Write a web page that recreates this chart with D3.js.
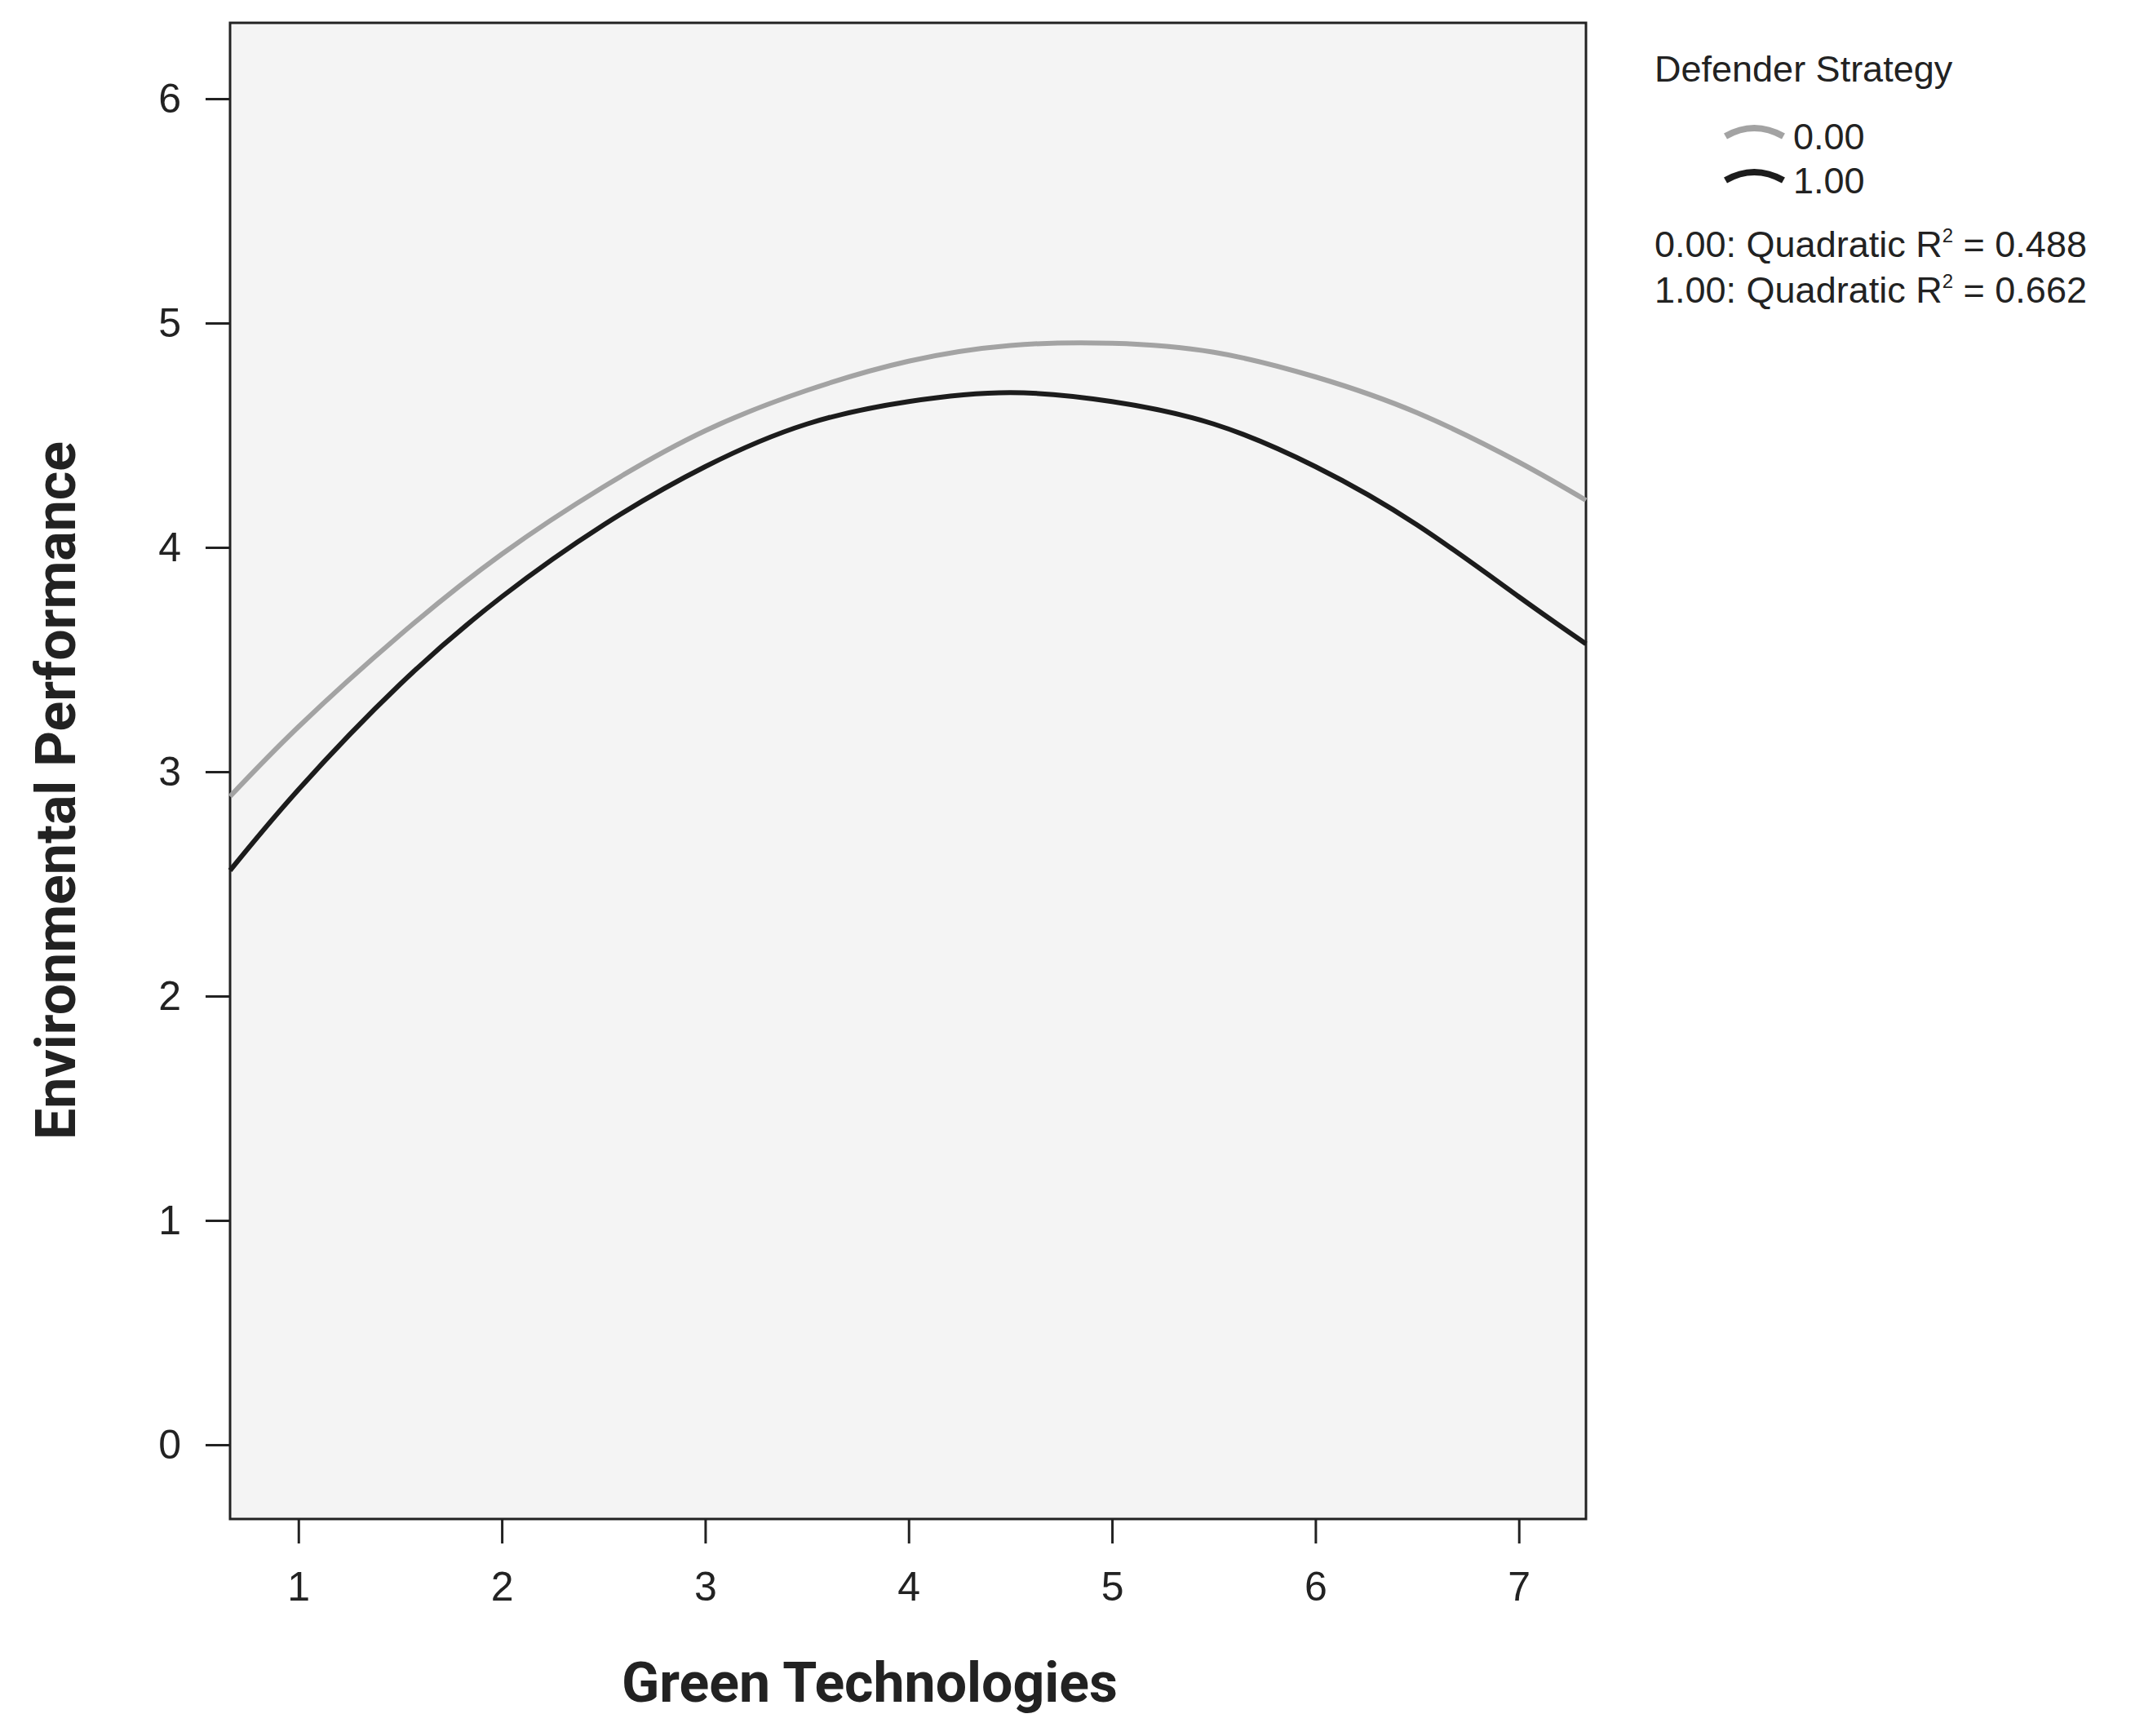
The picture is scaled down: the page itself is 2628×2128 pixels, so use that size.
<!DOCTYPE html>
<html>
<head>
<meta charset="utf-8">
<script src="https://cdn.jsdelivr.net/npm/d3@7"></script>
<style>
body { margin: 0; background: #fff; }
text { font-family: Arial, "Liberation Sans", sans-serif; fill: #222; }
</style>
</head>
<body>
<svg id="chart" width="2628" height="2128"></svg>
<script>
// Values
var xValues = [0.664, 1, 1.5, 2, 2.5, 3, 3.5, 4, 4.5, 5, 5.5, 6, 6.5, 7, 7.33];
var series0 = [2.89, 3.20, 3.61, 3.97, 4.27, 4.52, 4.70, 4.83, 4.90, 4.91, 4.87, 4.76, 4.60, 4.38, 4.21];
var series1 = [2.56, 2.92, 3.39, 3.78, 4.10, 4.36, 4.55, 4.65, 4.69, 4.65, 4.55, 4.36, 4.10, 3.78, 3.57];
var seriesNames = ["0.00", "1.00"];
var seriesColors = ["#a3a3a3", "#1c1c1c"];
var rSquared = ["0.488", "0.662"];
var xTicks = [1, 2, 3, 4, 5, 6, 7];
var yTicks = [0, 1, 2, 3, 4, 5, 6];

var svg = d3.select("#chart");
var plotLeft = 282, plotRight = 1944, plotTop = 28, plotBottom = 1862;

var x = d3.scaleLinear().domain([0.664, 7.33]).range([plotLeft, plotRight]);
var y = d3.scaleLinear().domain([0, 6]).range([1771, 121]);

// Plot background
svg.append("rect")
    .attr("x", plotLeft).attr("y", plotTop)
    .attr("width", plotRight - plotLeft).attr("height", plotBottom - plotTop)
    .attr("fill", "#f4f4f4").attr("stroke", "#222").attr("stroke-width", 3);

// Axes
var yAxis = svg.append("g").attr("transform", "translate(" + plotLeft + ",0)")
    .call(d3.axisLeft(y).tickValues(yTicks).tickFormat(d3.format("d")).tickSize(30).tickPadding(30));
var xAxis = svg.append("g").attr("transform", "translate(0," + plotBottom + ")")
    .call(d3.axisBottom(x).tickValues(xTicks).tickFormat(d3.format("d")).tickSize(30).tickPadding(34));
[yAxis, xAxis].forEach(function (g) {
    g.select(".domain").remove();
    g.selectAll("line").attr("stroke", "#222").attr("stroke-width", 3);
    g.selectAll("text").attr("font-size", 50).attr("fill", "#222")
        .attr("font-family", "Arial, 'Liberation Sans', sans-serif");
});

// Lines
var line = d3.line().x(function (d) { return x(d[0]); }).y(function (d) { return y(d[1]); })
    .curve(d3.curveNatural);
[series0, series1].forEach(function (s, i) {
    svg.append("path")
        .datum(xValues.map(function (v, j) { return [v, s[j]]; }))
        .attr("d", line)
        .attr("fill", "none")
        .attr("stroke", seriesColors[i])
        .attr("stroke-width", 6);
});

// Axis titles
svg.append("text")
    .attr("x", 1066).attr("y", 2086)
    .attr("text-anchor", "middle")
    .attr("font-size", 68).attr("font-weight", "bold")
    .style("font-family", "'Liberation Sans Narrow', 'Roboto', sans-serif")
    .text("Green Technologies");
svg.append("text")
    .attr("transform", "translate(92,969) rotate(-90)")
    .attr("text-anchor", "middle")
    .attr("font-size", 68).attr("font-weight", "bold")
    .style("font-family", "'Liberation Sans Narrow', 'Roboto', sans-serif")
    .text("Environmental Performance");

// Legend
var lg = svg.append("g");
lg.append("text").attr("x", 2028).attr("y", 100).attr("font-size", 45).text("Defender Strategy");
seriesNames.forEach(function (name, i) {
    var cy = 161 + i * 54;
    lg.append("path")
        .attr("d", "M2115," + (cy + 6) + " Q2150," + (cy - 14) + " 2186," + (cy + 6))
        .attr("fill", "none").attr("stroke", seriesColors[i]).attr("stroke-width", 8);
    lg.append("text").attr("x", 2198).attr("y", cy + 22).attr("font-size", 45).text(name);
});
rSquared.forEach(function (r, i) {
    var t = lg.append("text").attr("x", 2028).attr("y", 315 + i * 56).attr("font-size", 45);
    t.append("tspan").text(seriesNames[i] + ": Quadratic R");
    t.append("tspan").attr("font-size", 24).attr("dy", -18).text("2");
    t.append("tspan").attr("dy", 18).text(" = " + r);
});
</script>
</body>
</html>
